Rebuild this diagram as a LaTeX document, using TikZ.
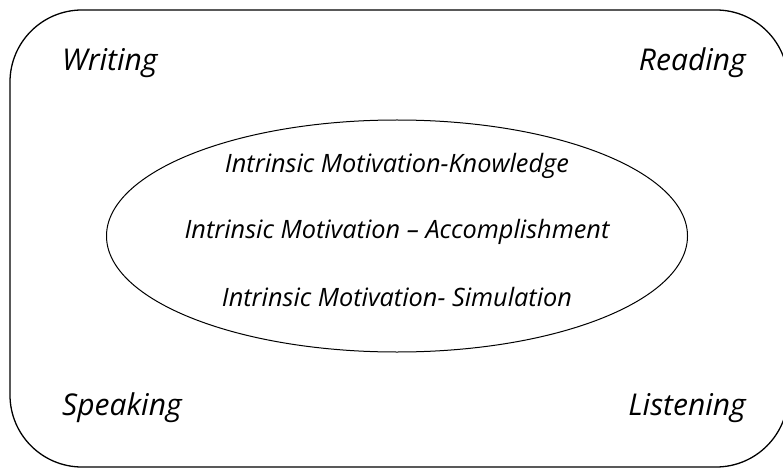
\documentclass[tikz,border=0pt]{standalone}
\usepackage{fontspec}
\setmainfont{Open Sans}
\usetikzlibrary{shapes.geometric}
\begin{document}
\begin{tikzpicture}[x=1pt,y=-1pt,
  skill/.style={font=\itshape\fontsize{30}{34}\selectfont, inner sep=0pt},
  motive/.style={font=\itshape\fontsize{25.3}{28}\selectfont, inner sep=0pt}]
  \useasboundingbox (0,0) rectangle (783,470);
  % outer frame (its right side runs just past the page edge)
  \begin{scope}
    \clip (0,0) rectangle (783,470);
    \draw[line width=1.3pt, rounded corners=72pt] (10,10) rectangle (788,467);
  \end{scope}
  % central ellipse
  \node[draw, line width=1pt, ellipse, minimum width=581pt, minimum height=232pt, inner sep=0pt] (core) at (397,236) {};
  % four language skills in the corners
  \node[skill, anchor=west] (writing) at (62,63) {Writing};
  \node[skill, anchor=east] (reading) at (746,63) {Reading};
  \node[skill, anchor=west] (speaking) at (62,408) {Speaking};
  \node[skill, anchor=east] (listening) at (746,408) {Listening};
  % kinds of intrinsic motivation
  \node[motive] (know) at (397,166) {Intrinsic Motivation-Knowledge};
  \node[motive] (accomp) at (397,232) {Intrinsic Motivation – Accomplishment};
  \node[motive] (simul) at (397,297) {Intrinsic Motivation- Simulation};
\end{tikzpicture}
\end{document}
